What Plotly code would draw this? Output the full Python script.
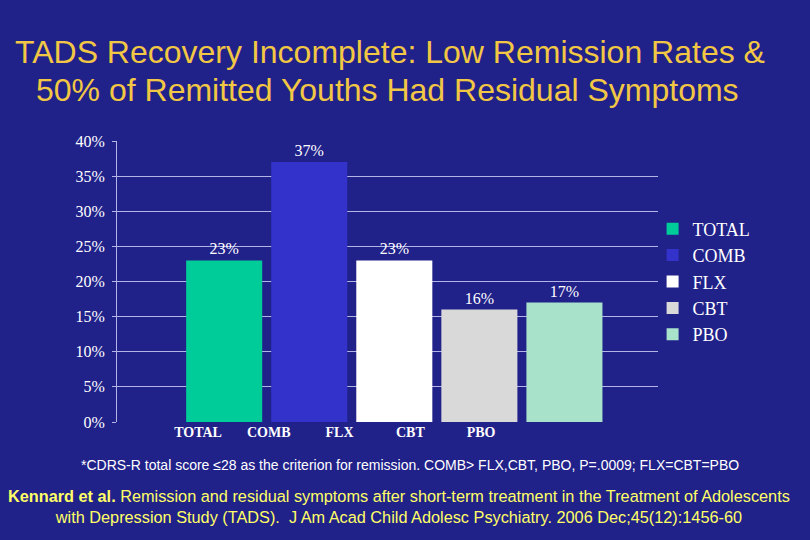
import plotly.graph_objects as go

# data
groups = ["TOTAL", "COMB", "FLX", "CBT", "PBO"]
remission = [23, 37, 23, 16, 17]
bar_colors = ["#00cc99", "#3333cc", "#ffffff", "#d9d9d9", "#a8e2cb"]
y_ticks = [0, 5, 10, 15, 20, 25, 30, 35, 40]

title_lines = ["TADS Recovery Incomplete: Low Remission Rates &",
               "50% of Remitted Youths Had Residual Symptoms"]
footnote = ("*CDRS-R total score \u226428 as the criterion for remission. "
            "COMB> FLX,CBT, PBO, P=.0009; FLX=CBT=PBO")
citation = ("<b>Kennard et al.</b> Remission and residual symptoms after short-term "
            "treatment in the Treatment of Adolescents<br>with Depression Study (TADS).  "
            "J Am Acad Child Adolesc Psychiatry. 2006 Dec;45(12):1456-60")

BG = "#21218a"
GRID = "#b4b4e6"
SERIF = "Liberation Serif, Times New Roman, serif"
SANS = "Liberation Sans, Arial, sans-serif"

fig = go.Figure()
for name, val, col in zip(groups, remission, bar_colors):
    fig.add_trace(go.Bar(
        x=[name], y=[val], name=name,
        marker=dict(color=col, line=dict(width=0)),
        text=[f"{val}%"], textposition="outside", cliponaxis=False,
        textfont=dict(family=SERIF, size=16, color="white"),
    ))

# category labels sit on their own (slightly narrower) axis, as on the slide
fig.add_trace(go.Scatter(x=list(range(len(groups))), y=[0] * len(groups),
                         xaxis="x2", mode="markers", opacity=0,
                         showlegend=False, hoverinfo="skip"))

title_font = dict(family=SANS, size=32, color="#f2c744")
notes = [
    dict(text=title_lines[0], xref="paper", yref="paper", x=0.505, y=1.317,
         showarrow=False, xanchor="center", yanchor="middle", font=title_font),
    dict(text=title_lines[1], xref="paper", yref="paper", x=0.5, y=1.181,
         showarrow=False, xanchor="center", yanchor="middle", font=title_font),
    dict(text=footnote, xref="paper", yref="paper", x=0.5416, y=-0.153,
         showarrow=False, xanchor="center", yanchor="middle",
         font=dict(family=SANS, size=14, color="white")),
    dict(text=citation, xref="paper", yref="paper", x=0.522, y=-0.302,
         showarrow=False, xanchor="center", yanchor="middle", align="center",
         font=dict(family=SANS, size=16.3, color="#ffff66")),
]

fig.update_layout(
    width=810, height=540,
    paper_bgcolor=BG, plot_bgcolor=BG,
    margin=dict(l=117, r=152, t=141, b=118),
    barmode="overlay", bargap=0.106,
    legend=dict(x=0.99, xanchor="left", y=0.5, yanchor="middle",
                font=dict(family=SERIF, size=18, color="white"),
                bgcolor="rgba(0,0,0,0)", itemclick=False),
    xaxis=dict(range=[-1.26, 5.1], showticklabels=False, showgrid=False,
               zeroline=False, showline=False, ticks=""),
    xaxis2=dict(overlaying="x", side="bottom", anchor="y", type="linear",
                range=[-1.145, 6.5], tickvals=list(range(len(groups))),
                ticktext=groups, showgrid=False, zeroline=False, showline=False,
                ticks="",
                tickfont=dict(family=SERIF, size=14, color="white", weight="bold")),
    yaxis=dict(range=[0, 40], tickvals=y_ticks,
               ticktext=[f"{v}%" for v in y_ticks],
               showgrid=True, gridcolor=GRID, gridwidth=1,
               showline=True, linecolor=GRID, linewidth=1,
               ticks="outside", ticklen=4, tickcolor=GRID,
               ticklabelstandoff=4, zeroline=False,
               tickfont=dict(family=SERIF, size=16, color="white")),
    annotations=notes,
)

fig.write_html("out.html", config={"displayModeBar": False},
               post_script="document.body.style.margin='0';"
                           f"document.body.style.background='{BG}';")
